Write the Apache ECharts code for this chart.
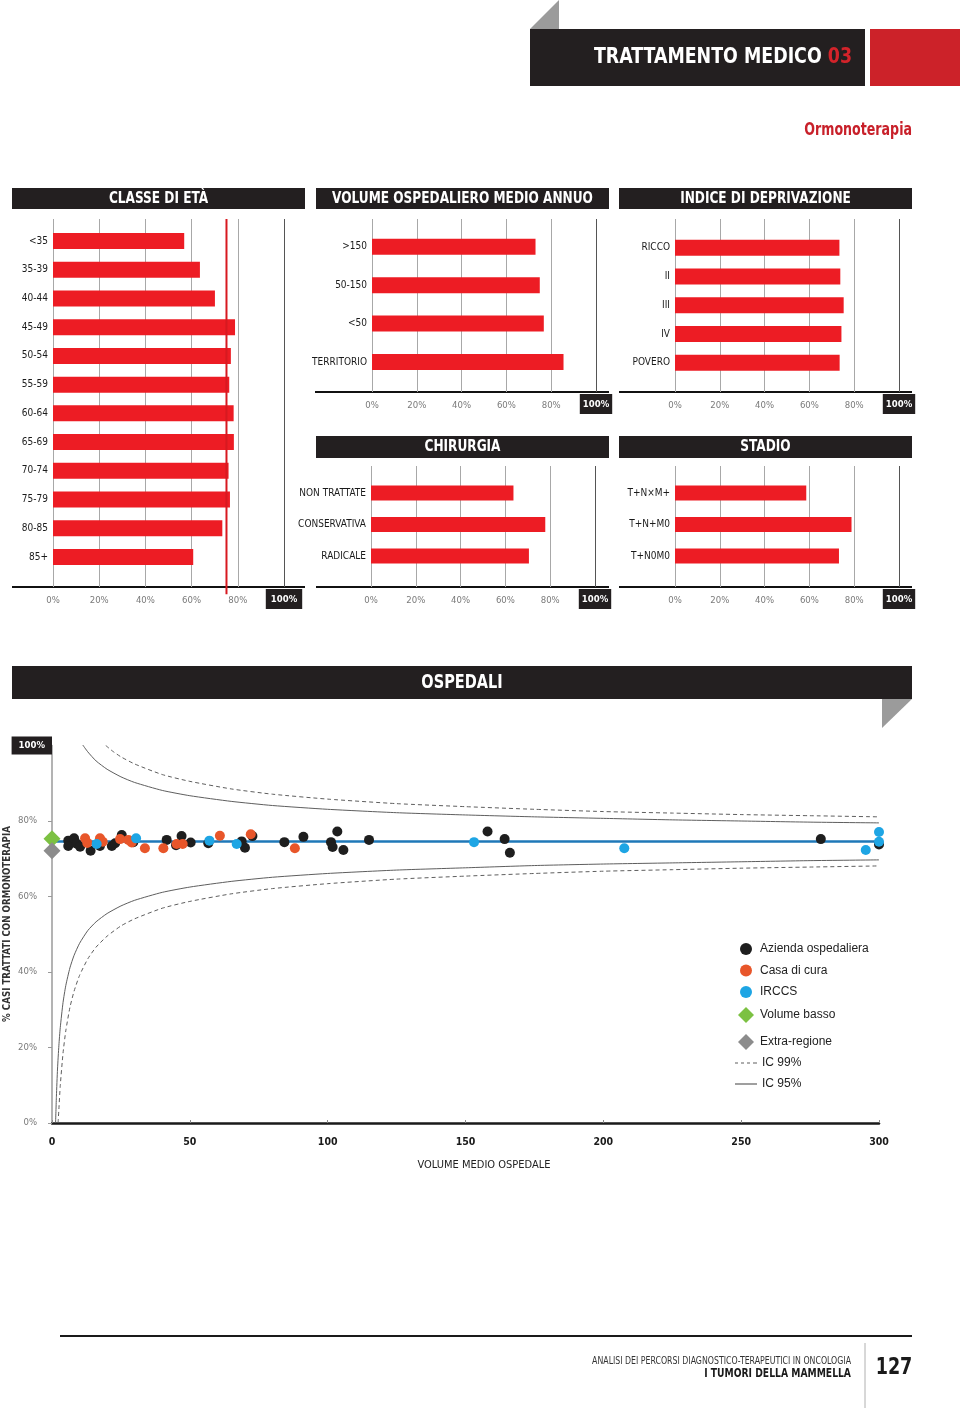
<!DOCTYPE html>
<html>
<head>
<meta charset="utf-8">
<title>Ormonoterapia</title>
<script src="https://cdn.jsdelivr.net/npm/echarts@6/dist/echarts.min.js"></script>
<style>
html, body { margin: 0; padding: 0; background: #fff; }
#main { width: 960px; height: 1408px; }
</style>
</head>
<body>
<div id="main"></div>
<script>
// ---- dati ----
var etaCat = ['<35', '35-39', '40-44', '45-49', '50-54', '55-59', '60-64', '65-69', '70-74', '75-79', '80-85', '85+'];
var etaVal = [56.8, 63.6, 70.1, 78.8, 77.0, 76.3, 78.2, 78.3, 76.0, 76.6, 73.3, 60.7];
var mediaRegionale = 75.1;

var volumeCat = ['>150', '50-150', '<50', 'TERRITORIO'];
var volumeVal = [73.0, 74.9, 76.7, 85.5];

var deprivCat = ['RICCO', 'II', 'III', 'IV', 'POVERO'];
var deprivVal = [73.4, 73.8, 75.3, 74.3, 73.5];

var chirCat = ['NON TRATTATE', 'CONSERVATIVA', 'RADICALE'];
var chirVal = [63.6, 77.8, 70.5];

var stadioCat = ['T+N×M+', 'T+N+M0', 'T+N0M0'];
var stadioVal = [58.6, 78.8, 73.2];

// ospedali: [volume medio, % trattati]
var aziendaOsp = [[5.9, 74.8], [5.9, 73.4], [8.0, 75.4], [9.0, 74.0], [10.2, 73.2], [14.0, 72.1], [17.4, 73.4],
    [21.7, 73.4], [22.9, 74.1], [25.3, 76.3], [29.5, 74.4], [41.6, 75.0], [45.0, 73.6], [47.0, 76.0],
    [50.3, 74.3], [56.7, 74.1], [68.8, 74.6], [70.0, 72.9], [72.7, 76.0], [84.3, 74.4], [91.2, 75.8],
    [101.2, 74.4], [101.8, 73.1], [103.5, 77.2], [105.7, 72.3], [115.0, 75.0], [158.0, 77.2],
    [164.2, 75.2], [166.1, 71.6], [278.9, 75.2], [300.0, 73.8]];
var casaCura = [[12.0, 75.4], [12.8, 74.2], [17.4, 75.4], [18.4, 74.5], [24.7, 75.2], [27.7, 75.0], [28.9, 74.3],
    [33.7, 72.8], [40.4, 72.8], [45.2, 73.9], [47.4, 73.9], [60.9, 76.1], [72.1, 76.5], [88.1, 72.8]];
var irccs = [[16.2, 73.9], [30.5, 75.4], [57.1, 74.8], [67.0, 73.9], [153.1, 74.4], [207.6, 72.8],
    [300.0, 77.1], [300.0, 74.5], [295.2, 72.3]];
var volumeBasso = [[0, 75.3]];
var extraRegione = [[0, 72.1]];
var mediaOspedali = 74.6;
var mediaOspedaliRange = [0, 306];

// limiti di controllo (funnel)
var ic95SupVol = [11, 13, 16, 20, 25, 30, 40, 50, 65, 80, 100, 125, 150, 175, 200, 225, 250, 275, 300];
var ic95SupVal = [100.3, 98.3, 95.9, 93.7, 91.7, 90.2, 88.1, 86.7, 85.2, 84.1, 83.1, 82.2, 81.6, 81.1, 80.7, 80.3, 80.0, 79.7, 79.5];
var ic95InfVol = [1.3, 1.6, 2, 2.5, 3, 4, 5, 6.5, 8, 10, 13, 16, 20, 25, 30, 40, 50, 65, 80, 100, 125, 150, 175, 200, 225, 250, 275, 300];
var ic95InfVal = [0, 7.1, 14.3, 20.6, 25.3, 31.9, 36.4, 41.1, 44.4, 47.6, 51.0, 53.3, 55.5, 57.5, 59.0, 61.1, 62.5, 64.0, 65.1, 66.1, 67.0, 67.6, 68.2, 68.6, 68.9, 69.2, 69.5, 69.7];
var ic99SupVol = [19.5, 22, 25, 30, 40, 50, 65, 80, 100, 125, 150, 175, 200, 225, 250, 275, 300];
var ic99SupVal = [100, 98.5, 97.0, 95.1, 92.3, 90.5, 88.5, 87.1, 85.8, 84.6, 83.8, 83.1, 82.5, 82.1, 81.7, 81.4, 81.1];
var ic99InfVol = [2.2, 2.5, 3, 4, 5, 6.5, 8, 10, 13, 16, 20, 25, 30, 40, 50, 65, 80, 100, 125, 150, 175, 200, 225, 250, 275, 300];
var ic99InfVal = [0, 3.7, 9.9, 18.5, 24.4, 30.6, 34.9, 39.1, 43.5, 46.6, 49.5, 52.2, 54.1, 56.9, 58.7, 60.7, 62.1, 63.4, 64.6, 65.4, 66.1, 66.7, 67.1, 67.5, 67.8, 68.1];

var cond = '"Liberation Sans Narrow","DejaVu Sans Condensed",sans-serif';
var dark = '#231f20';
var barRed = '#ed1c24';

function zip(a, b) {
    var out = [];
    for (var i = 0; i < a.length; i++) out.push([a[i], b[i]]);
    return out;
}

// pannelli a barre
var panels = [
    { frame: [53, 219, 231, 368], bars: [53, 226.6, 231, 344.8], cats: etaCat, vals: etaVal, bw: 16, pad: [6, 5, 4, 5] },
    { frame: [372, 219, 224, 173], bars: [372, 227.5, 224, 153.7], cats: volumeCat, vals: volumeVal, bw: 16, pad: [6, 3, 4, 3] },
    { frame: [675, 219, 224, 173], bars: [675, 233.3, 224, 143.8], cats: deprivCat, vals: deprivVal, bw: 16, pad: [6, 3, 4, 3] },
    { frame: [371, 466, 224, 121], bars: [371, 477.25, 224, 94.5], cats: chirCat, vals: chirVal, bw: 15, pad: [6, 3, 4, 3] },
    { frame: [675, 466, 224, 121], bars: [675, 477.25, 224, 94.5], cats: stadioCat, vals: stadioVal, bw: 15, pad: [6, 3, 4, 3] }
];

var grid = [], xAxis = [], yAxis = [], series = [];

function g(r) {
    return { left: r[0], top: r[1], width: r[2], height: r[3], containLabel: false, outerBoundsMode: 'none' };
}

panels.forEach(function (p, i) {
    grid[i] = g(p.frame);
    grid[i + 5] = g(p.bars);
    xAxis[i] = {
        gridIndex: i, type: 'value', min: 0, max: 100, interval: 20,
        axisLine: { show: false }, axisTick: { show: false },
        splitLine: { show: true, lineStyle: { color: ['#a8a8a8', '#a8a8a8', '#a8a8a8', '#a8a8a8', '#a8a8a8', '#555'], width: 1 } },
        axisLabel: {
            margin: 2, showMinLabel: true, showMaxLabel: true,
            formatter: function (v) { return v === 100 ? '{b|100%}' : '{n|' + v + '%}'; },
            rich: {
                n: { color: '#7a7a7a', fontSize: 9.5, fontFamily: cond, padding: [7, 0, 0, 0] },
                b: { color: '#fff', backgroundColor: dark, fontSize: 9.5, fontWeight: 'bold', fontFamily: cond, padding: p.pad }
            }
        }
    };
    yAxis[i] = { gridIndex: i, type: 'value', min: 0, max: 1, show: false };
    xAxis[i + 5] = { gridIndex: i + 5, type: 'value', min: 0, max: 100, show: false };
    yAxis[i + 5] = {
        gridIndex: i + 5, type: 'category', data: p.cats, inverse: true,
        axisLine: { show: false }, axisTick: { show: false }, splitLine: { show: false },
        axisLabel: { margin: 5, color: '#1a1a1a', fontSize: 10, fontFamily: cond }
    };
    series.push({
        type: 'bar', xAxisIndex: i + 5, yAxisIndex: i + 5, data: p.vals,
        barWidth: p.bw, itemStyle: { color: barRed }, silent: true
    });
});

// linea media regionale (classe di età)
series.push({
    type: 'line', xAxisIndex: 0, yAxisIndex: 0, clip: false, symbol: 'none', silent: true, z: 4,
    data: [[mediaRegionale, -0.02], [mediaRegionale, 1]],
    lineStyle: { color: '#d71920', width: 2 }
});

// grafico ospedali
grid[10] = { left: 52, top: 745.5, width: 827, height: 377.5, containLabel: false, outerBoundsMode: 'none' };
xAxis[10] = {
    gridIndex: 10, type: 'value', min: 0, max: 300, interval: 50,
    axisLine: { lineStyle: { color: '#1a1a1a', width: 2.5 } },
    axisTick: { show: true, inside: true, length: 3, lineStyle: { color: '#888' } },
    splitLine: { show: false },
    axisLabel: { margin: 14, color: '#1a1a1a', fontSize: 10.5, fontWeight: 'bold', fontFamily: cond },
    name: 'VOLUME MEDIO OSPEDALE', nameLocation: 'middle', nameGap: 37,
    nameTextStyle: { color: '#222', fontSize: 11, fontFamily: cond, padding: [0, 0, 0, 37] }
};
yAxis[10] = {
    gridIndex: 10, type: 'value', min: 0, max: 100, interval: 20,
    axisLine: { show: true, lineStyle: { color: '#9a9a9a', width: 1.5 } },
    axisTick: { show: true, length: 4, lineStyle: { color: '#9a9a9a' } },
    splitLine: { show: false },
    axisLabel: {
        margin: 0,
        formatter: function (v) { return v === 100 ? '{b|100%}' : '{n|' + v + '%}'; },
        rich: {
            n: { color: '#7a7a7a', fontSize: 9.5, fontFamily: cond, padding: [0, 15, 0, 0] },
            b: { color: '#fff', backgroundColor: dark, fontSize: 9.5, fontWeight: 'bold', fontFamily: cond, padding: [4, 7, 4, 7] }
        }
    }
};

function curve(name, vol, val, dashed) {
    return {
        name: name, type: 'line', xAxisIndex: 10, yAxisIndex: 10, data: zip(vol, val),
        symbol: 'none', silent: true, z: 2, smooth: 0.2,
        lineStyle: { color: '#5e5e5e', width: 1, type: dashed ? [4, 3] : 'solid' },
        itemStyle: { color: '#5e5e5e' }
    };
}
series.push(curve('IC 99%', ic99SupVol, ic99SupVal, true));
series.push(curve('IC 99%', ic99InfVol, ic99InfVal, true));
series.push(curve('IC 95%', ic95SupVol, ic95SupVal, false));
series.push(curve('IC 95%', ic95InfVol, ic95InfVal, false));

series.push({
    type: 'line', xAxisIndex: 10, yAxisIndex: 10, clip: false, symbol: 'none', silent: true, z: 3,
    data: [[mediaOspedaliRange[0], mediaOspedali], [mediaOspedaliRange[1], mediaOspedali]],
    lineStyle: { color: '#1f78b8', width: 2.5 }
});

function dots(name, data, color, symbol, size) {
    return {
        name: name, type: 'scatter', xAxisIndex: 10, yAxisIndex: 10, data: data,
        symbol: symbol, symbolSize: size, silent: true, z: 5,
        itemStyle: { color: color, opacity: 1 }
    };
}
series.push(dots('Azienda ospedaliera', aziendaOsp, '#1e1e1e', 'circle', 10));
series.push(dots('Casa di cura', casaCura, '#e8562a', 'circle', 10));
series.push(dots('IRCCS', irccs, '#1ea5e4', 'circle', 10));
series.push(dots('Volume basso', volumeBasso, '#7cc142', 'diamond', 17));
series.push(dots('Extra-regione', extraRegione, '#8c8c8c', 'diamond', 17));

var legendText = { fontSize: 12, color: '#222', fontFamily: '"Liberation Sans", Arial, sans-serif' };

function lt(pad) {
    return Object.assign({}, legendText, { padding: [0, 0, 0, pad] });
}

var iconSolid = 'path://M0,0h22v1.2h-22z';
var iconDash = 'path://M0,0h3v1.2h-3z M6,0h3v1.2h-3z M12,0h3v1.2h-3z M18,0h4v1.2h-4z';

// elementi grafici (testate, barre titolo, assi e piè di pagina)
var graphic = [];
function rect(x, y, w, h, fill) {
    graphic.push({ type: 'rect', silent: true, shape: { x: x, y: y, width: w, height: h }, style: { fill: fill } });
}
function text(x, y, t, size, fill, align, weight, sx) {
    graphic.push({
        type: 'text', silent: true, x: x, y: y, scaleX: sx || 1,
        style: {
            text: t, fill: fill, align: align || 'center', textAlign: align || 'center', verticalAlign: 'middle',
            fontSize: size, fontWeight: weight || 'bold', fontFamily: cond
        }
    });
}
function line(x1, y1, x2, y2, stroke, w) {
    graphic.push({ type: 'line', silent: true, shape: { x1: x1, y1: y1, x2: x2, y2: y2 }, style: { stroke: stroke, lineWidth: w } });
}

// testata
graphic.push({ type: 'polygon', silent: true, shape: { points: [[530, 29], [559, 0], [559, 29]] }, style: { fill: '#9b9b9b' } });
rect(530, 29, 335, 57, dark);
rect(870, 29, 90, 57, '#cc2229');
graphic.push({
    type: 'text', silent: true, x: 852, y: 57, scaleX: 0.88,
    style: {
        text: '{w|TRATTAMENTO MEDICO }{r|03}', align: 'right', textAlign: 'right', verticalAlign: 'middle',
        rich: {
            w: { fill: '#fff', fontSize: 22, fontWeight: 'bold', fontFamily: cond },
            r: { fill: '#d3232a', fontSize: 22, fontWeight: 'bold', fontFamily: cond }
        }
    }
});
text(912, 130, 'Ormonoterapia', 18, '#c8202a', 'right', 'bold', 0.78);

// barre titolo
var titles = [
    [12, 188, 293, 21, 'CLASSE DI ETÀ'],
    [316, 188, 293, 21, 'VOLUME OSPEDALIERO MEDIO ANNUO'],
    [619, 188, 293, 21, 'INDICE DI DEPRIVAZIONE'],
    [316, 436, 293, 22, 'CHIRURGIA'],
    [619, 436, 293, 22, 'STADIO']
];
titles.forEach(function (t) {
    rect(t[0], t[1], t[2], t[3], dark);
    graphic.push({
        type: 'text', silent: true, x: t[0] + t[2] / 2, y: t[1] + t[3] / 2 + 0.5, scaleX: 0.9,
        style: {
            text: t[4], fill: '#fff', align: 'center', textAlign: 'center', verticalAlign: 'middle',
            fontSize: 15, fontWeight: 'bold', fontFamily: cond
        }
    });
});

// linee d'asse dei pannelli
line(12, 587, 305, 587, '#111', 2);
line(315, 392, 609, 392, '#111', 2);
line(619, 392, 912, 392, '#111', 2);
line(316, 587, 609, 587, '#111', 2);
line(619, 587, 912, 587, '#111', 2);

// ospedali
rect(12, 666, 900, 33, dark);
text(462, 683, 'OSPEDALI', 19, '#fff', 'center', 'bold', 0.85);
graphic.push({ type: 'polygon', silent: true, shape: { points: [[882, 699], [912, 699], [882, 728]] }, style: { fill: '#9b9b9b' } });
graphic.push({
    type: 'text', silent: true, x: 7, y: 924, rotation: Math.PI / 2, scaleX: 0.92,
    style: {
        text: '% CASI TRATTATI CON ORMONOTERAPIA', fill: '#333', align: 'center', textAlign: 'center',
        verticalAlign: 'middle', fontSize: 10.5, fontWeight: 'bold', fontFamily: cond
    }
});

// piè di pagina
line(60, 1336, 912, 1336, '#1a1a1a', 2);
line(865, 1343, 865, 1408, '#b0b0b0', 1);
text(851, 1361, 'ANALISI DEI PERCORSI DIAGNOSTICO-TERAPEUTICI IN ONCOLOGIA', 10, '#333', 'right', 'normal', 0.87);
text(851, 1374, 'I TUMORI DELLA MAMMELLA', 11.5, '#1a1a1a', 'right', 'bold', 0.89);
text(894, 1368, '127', 23, '#1a1a1a', 'center', 'bold', 0.85);

var chart = echarts.init(document.getElementById('main'), null, { renderer: 'canvas' });
chart.setOption({
    animation: false,
    backgroundColor: '#fff',
    grid: grid,
    xAxis: xAxis,
    yAxis: yAxis,
    series: series,
    legend: [
        {
            data: ['Azienda ospedaliera', 'Casa di cura', 'IRCCS'], orient: 'vertical', left: 735, top: 938,
            itemWidth: 12, itemHeight: 12, itemGap: 9.5, icon: 'circle', selectedMode: false, textStyle: lt(3)
        },
        {
            data: ['Volume basso', 'Extra-regione'], orient: 'vertical', left: 733, top: 1002,
            itemWidth: 16, itemHeight: 16, itemGap: 11, icon: 'diamond', selectedMode: false, textStyle: lt(1)
        },
        {
            data: [{ name: 'IC 99%', icon: iconDash }, { name: 'IC 95%', icon: iconSolid }],
            orient: 'vertical', left: 730, top: 1052,
            itemWidth: 22, itemHeight: 12, itemGap: 9, selectedMode: false, textStyle: lt(0)
        }
    ],
    graphic: graphic
});
</script>
</body>
</html>
